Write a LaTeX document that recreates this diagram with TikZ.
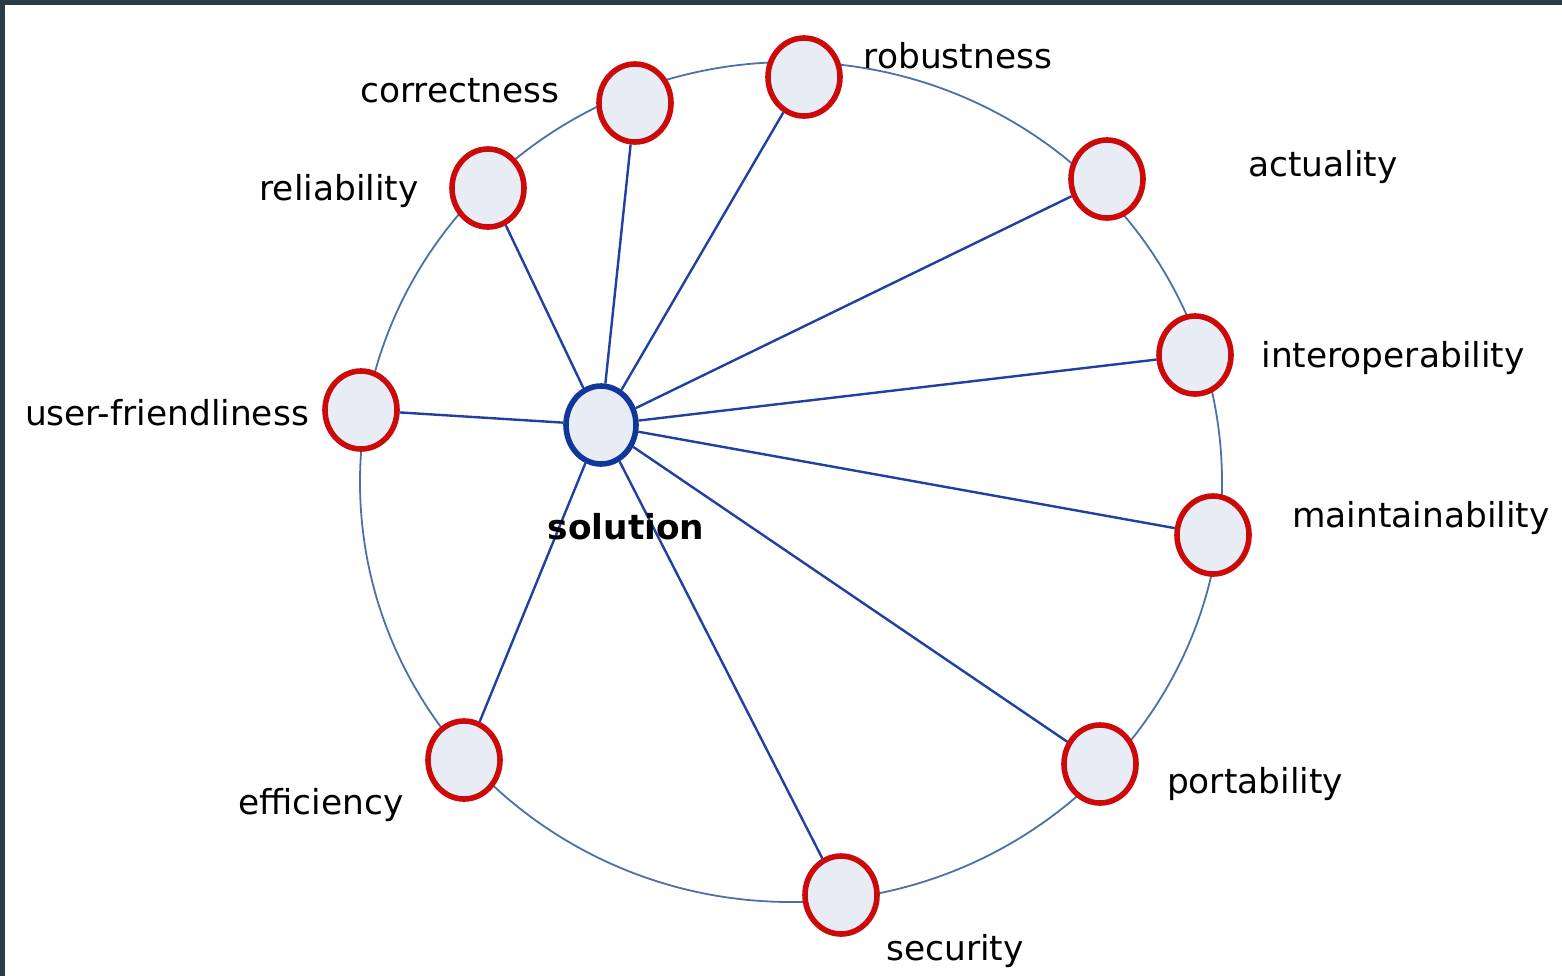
\documentclass[tikz,border=0pt]{standalone}
\usepackage{fontspec}
\setmainfont{DejaVu Sans}
\usetikzlibrary{shapes.geometric}
\definecolor{frame}{HTML}{2A3C46}
\definecolor{ringc}{HTML}{4A72A8}
\definecolor{edgec}{HTML}{2041A0}
\definecolor{nodefill}{HTML}{E8EDF5}
\definecolor{redc}{HTML}{CC0A0A}
\definecolor{bluec}{HTML}{10389A}
\tikzset{
  qnode/.style={ellipse, draw=redc, line width=2.8pt, fill=nodefill, minimum width=36pt, minimum height=39pt, inner sep=0pt},
  snode/.style={ellipse, draw=bluec, line width=2.8pt, fill=nodefill, minimum width=35pt, minimum height=39pt, inner sep=0pt},
  lbl/.style={anchor=base, font=\fontsize{17.2}{20}\selectfont, inner sep=0pt},
  spoke/.style={draw=edgec, line width=1.2pt},
}
\begin{document}
\begin{tikzpicture}[x=0.5pt,y=-0.5pt]
\useasboundingbox (0,0) rectangle (1562,976);
\fill[white] (0,0) rectangle (1562,976);
\fill[frame] (0,0) rectangle (1562,5);
\fill[frame] (0,0) rectangle (5,976);
% ring
\draw[ringc, line width=0.9pt] (791,482) ellipse [x radius=431, y radius=420];
% nodes
\node[snode] (sol) at (601,425) {};
\node[qnode] (cor) at (635,103) {};
\node[qnode] (rob) at (804,77) {};
\node[qnode] (rel) at (488,188) {};
\node[qnode] (act) at (1107,179) {};
\node[qnode] (int) at (1195,355) {};
\node[qnode] (mai) at (1213,535) {};
\node[qnode] (usr) at (361,410) {};
\node[qnode] (por) at (1100,764) {};
\node[qnode] (eff) at (464,760) {};
\node[qnode] (sec) at (841,895) {};
% spokes
\foreach \n in {cor,rob,rel,act,int,mai,usr,por,eff,sec}
  \draw[spoke] (sol) -- (\n);
% labels
\node[lbl] (tcor) at (460,102) {correctness};
\node[lbl] (trob) at (958,68) {robustness};
\node[lbl] (trel) at (339,200) {reliability};
\node[lbl] (tact) at (1323,176) {actuality};
\node[lbl] (tint) at (1393,367) {interoperability};
\node[lbl] (tmai) at (1421,527) {maintainability};
\node[lbl] (tusr) at (167,425) {user-friendliness};
\node[lbl, font=\fontsize{17.2}{20}\selectfont\bfseries] (tsol) at (626,539) {solution};
\node[lbl] (tpor) at (1255,793) {portability};
\node[lbl] (teff) at (321,814) {efficiency};
\node[lbl] (tsec) at (955,960) {security};
\end{tikzpicture}
\end{document}
